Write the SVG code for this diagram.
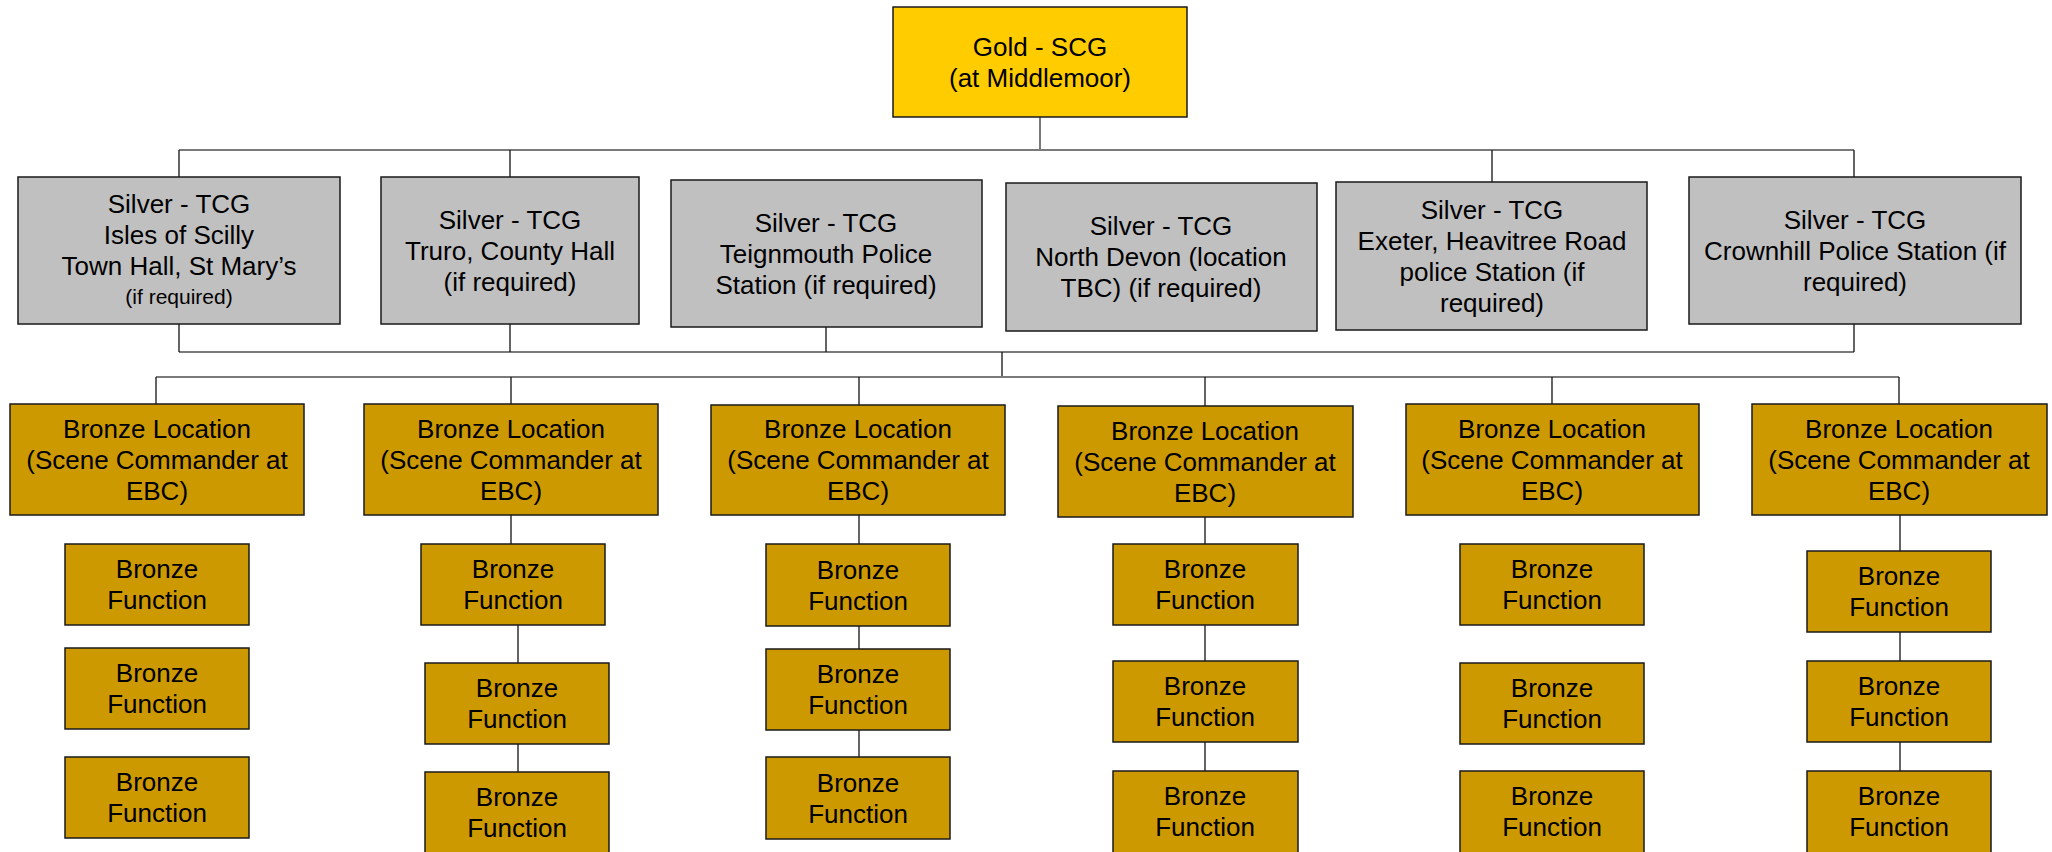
<svg xmlns="http://www.w3.org/2000/svg" width="2052" height="852" viewBox="0 0 2052 852">
<style>
  .box { stroke: #1a1a1a; stroke-width: 1.5; }
  .gold { fill: #FFCC00; }
  .silver { fill: #C0C0C0; }
  .bronze { fill: #CC9900; }
  text { font-family: "Liberation Sans", Arial, sans-serif; font-size: 26px; fill: #000; text-anchor: middle; }
  .small { font-size: 21px; }
  .h { stroke: #7a7a7a; stroke-width: 2; fill: none; }
  .v { stroke: #111; stroke-width: 1.3; fill: none; }
</style>
<rect width="2052" height="852" fill="#fff"/>
<g id="connectors">
  <line class="h" x1="1040" y1="117" x2="1040" y2="150"/>
  <line class="h" x1="179" y1="150" x2="1854" y2="150"/>
  <line class="v" x1="179" y1="150" x2="179" y2="177"/>
  <line class="v" x1="510" y1="150" x2="510" y2="177"/>
  <line class="v" x1="1492" y1="150" x2="1492" y2="182"/>
  <line class="v" x1="1854" y1="150" x2="1854" y2="177"/>
  <line class="h" x1="179" y1="352" x2="1854" y2="352"/>
  <line class="v" x1="179" y1="324" x2="179" y2="352"/>
  <line class="v" x1="510" y1="324" x2="510" y2="352"/>
  <line class="v" x1="826" y1="327" x2="826" y2="352"/>
  <line class="v" x1="1854" y1="324" x2="1854" y2="352"/>
  <line class="v" x1="1002" y1="352" x2="1002" y2="377"/>
  <line class="h" x1="156" y1="377" x2="1899" y2="377"/>
  <line class="v" x1="156" y1="377" x2="156" y2="404"/>
  <line class="v" x1="511" y1="377" x2="511" y2="404"/>
  <line class="v" x1="859" y1="377" x2="859" y2="405"/>
  <line class="v" x1="1205" y1="377" x2="1205" y2="406"/>
  <line class="v" x1="1552" y1="377" x2="1552" y2="404"/>
  <line class="v" x1="1899" y1="377" x2="1899" y2="404"/>
  <line class="v" x1="511" y1="515" x2="511" y2="544"/>
  <line class="v" x1="518" y1="625" x2="518" y2="663"/>
  <line class="v" x1="518" y1="744" x2="518" y2="772"/>
  <line class="v" x1="859" y1="515" x2="859" y2="544"/>
  <line class="v" x1="859" y1="626" x2="859" y2="649"/>
  <line class="v" x1="859" y1="730" x2="859" y2="757"/>
  <line class="v" x1="1205" y1="517" x2="1205" y2="544"/>
  <line class="v" x1="1205" y1="625" x2="1205" y2="661"/>
  <line class="v" x1="1205" y1="742" x2="1205" y2="771"/>
  <line class="v" x1="1900" y1="515" x2="1900" y2="551"/>
  <line class="v" x1="1900" y1="632" x2="1900" y2="661"/>
  <line class="v" x1="1900" y1="742" x2="1900" y2="771"/>
</g>
<g id="gold">
  <rect class="box gold" x="893" y="7" width="294" height="110"/>
  <text x="1040" y="55.5">Gold - SCG</text>
  <text x="1040" y="86.5">(at Middlemoor)</text>
</g>
<g id="silver1">
  <rect class="box silver" x="18" y="177" width="322" height="147"/>
  <text x="179" y="213">Silver - TCG</text>
  <text x="179" y="244">Isles of Scilly</text>
  <text x="179" y="275">Town Hall, St Mary’s</text>
  <text class="small" x="179" y="304">(if required)</text>
</g>
<g id="silver2">
  <rect class="box silver" x="381" y="177" width="258" height="147"/>
  <text x="510" y="228.5">Silver - TCG</text>
  <text x="510" y="259.5">Truro, County Hall</text>
  <text x="510" y="290.5">(if required)</text>
</g>
<g id="silver3">
  <rect class="box silver" x="671" y="180" width="311" height="147"/>
  <text x="826" y="231.5">Silver - TCG</text>
  <text x="826" y="262.5">Teignmouth Police</text>
  <text x="826" y="293.5">Station (if required)</text>
</g>
<g id="silver4">
  <rect class="box silver" x="1006" y="183" width="311" height="148"/>
  <text x="1161" y="235">Silver - TCG</text>
  <text x="1161" y="266">North Devon (location</text>
  <text x="1161" y="297">TBC) (if required)</text>
</g>
<g id="silver5">
  <rect class="box silver" x="1336" y="182" width="311" height="148"/>
  <text x="1492" y="218.5">Silver - TCG</text>
  <text x="1492" y="249.5">Exeter, Heavitree Road</text>
  <text x="1492" y="280.5">police Station (if</text>
  <text x="1492" y="311.5">required)</text>
</g>
<g id="silver6">
  <rect class="box silver" x="1689" y="177" width="332" height="147"/>
  <text x="1855" y="228.5">Silver - TCG</text>
  <text x="1855" y="259.5">Crownhill Police Station (if</text>
  <text x="1855" y="290.5">required)</text>
</g>
<g id="bronze-loc1">
  <rect class="box bronze" x="10" y="404" width="294" height="111"/>
  <text x="157" y="437.5">Bronze Location</text>
  <text x="157" y="468.5">(Scene Commander at</text>
  <text x="157" y="499.5">EBC)</text>
</g>
<g id="bronze-loc2">
  <rect class="box bronze" x="364" y="404" width="294" height="111"/>
  <text x="511" y="437.5">Bronze Location</text>
  <text x="511" y="468.5">(Scene Commander at</text>
  <text x="511" y="499.5">EBC)</text>
</g>
<g id="bronze-loc3">
  <rect class="box bronze" x="711" y="405" width="294" height="110"/>
  <text x="858" y="438">Bronze Location</text>
  <text x="858" y="469">(Scene Commander at</text>
  <text x="858" y="500">EBC)</text>
</g>
<g id="bronze-loc4">
  <rect class="box bronze" x="1058" y="406" width="295" height="111"/>
  <text x="1205" y="439.5">Bronze Location</text>
  <text x="1205" y="470.5">(Scene Commander at</text>
  <text x="1205" y="501.5">EBC)</text>
</g>
<g id="bronze-loc5">
  <rect class="box bronze" x="1406" y="404" width="293" height="111"/>
  <text x="1552" y="437.5">Bronze Location</text>
  <text x="1552" y="468.5">(Scene Commander at</text>
  <text x="1552" y="499.5">EBC)</text>
</g>
<g id="bronze-loc6">
  <rect class="box bronze" x="1752" y="404" width="295" height="111"/>
  <text x="1899" y="437.5">Bronze Location</text>
  <text x="1899" y="468.5">(Scene Commander at</text>
  <text x="1899" y="499.5">EBC)</text>
</g>
<g id="fn-1-1"><rect class="box bronze" x="65" y="544" width="184" height="81"/><text x="157" y="578">Bronze</text><text x="157" y="609">Function</text></g>
<g id="fn-1-2"><rect class="box bronze" x="65" y="648" width="184" height="81"/><text x="157" y="682">Bronze</text><text x="157" y="713">Function</text></g>
<g id="fn-1-3"><rect class="box bronze" x="65" y="757" width="184" height="81"/><text x="157" y="791">Bronze</text><text x="157" y="822">Function</text></g>
<g id="fn-2-1"><rect class="box bronze" x="421" y="544" width="184" height="81"/><text x="513" y="578">Bronze</text><text x="513" y="609">Function</text></g>
<g id="fn-2-2"><rect class="box bronze" x="425" y="663" width="184" height="81"/><text x="517" y="697">Bronze</text><text x="517" y="728">Function</text></g>
<g id="fn-2-3"><rect class="box bronze" x="425" y="772" width="184" height="100"/><text x="517" y="806">Bronze</text><text x="517" y="837">Function</text></g>
<g id="fn-3-1"><rect class="box bronze" x="766" y="544" width="184" height="82"/><text x="858" y="578.5">Bronze</text><text x="858" y="609.5">Function</text></g>
<g id="fn-3-2"><rect class="box bronze" x="766" y="649" width="184" height="81"/><text x="858" y="683">Bronze</text><text x="858" y="714">Function</text></g>
<g id="fn-3-3"><rect class="box bronze" x="766" y="757" width="184" height="82"/><text x="858" y="791.5">Bronze</text><text x="858" y="822.5">Function</text></g>
<g id="fn-4-1"><rect class="box bronze" x="1113" y="544" width="185" height="81"/><text x="1205" y="578">Bronze</text><text x="1205" y="609">Function</text></g>
<g id="fn-4-2"><rect class="box bronze" x="1113" y="661" width="185" height="81"/><text x="1205" y="695">Bronze</text><text x="1205" y="726">Function</text></g>
<g id="fn-4-3"><rect class="box bronze" x="1113" y="771" width="185" height="100"/><text x="1205" y="805">Bronze</text><text x="1205" y="836">Function</text></g>
<g id="fn-5-1"><rect class="box bronze" x="1460" y="544" width="184" height="81"/><text x="1552" y="578">Bronze</text><text x="1552" y="609">Function</text></g>
<g id="fn-5-2"><rect class="box bronze" x="1460" y="663" width="184" height="81"/><text x="1552" y="697">Bronze</text><text x="1552" y="728">Function</text></g>
<g id="fn-5-3"><rect class="box bronze" x="1460" y="771" width="184" height="100"/><text x="1552" y="805">Bronze</text><text x="1552" y="836">Function</text></g>
<g id="fn-6-1"><rect class="box bronze" x="1807" y="551" width="184" height="81"/><text x="1899" y="585">Bronze</text><text x="1899" y="616">Function</text></g>
<g id="fn-6-2"><rect class="box bronze" x="1807" y="661" width="184" height="81"/><text x="1899" y="695">Bronze</text><text x="1899" y="726">Function</text></g>
<g id="fn-6-3"><rect class="box bronze" x="1807" y="771" width="184" height="100"/><text x="1899" y="805">Bronze</text><text x="1899" y="836">Function</text></g>
</svg>
